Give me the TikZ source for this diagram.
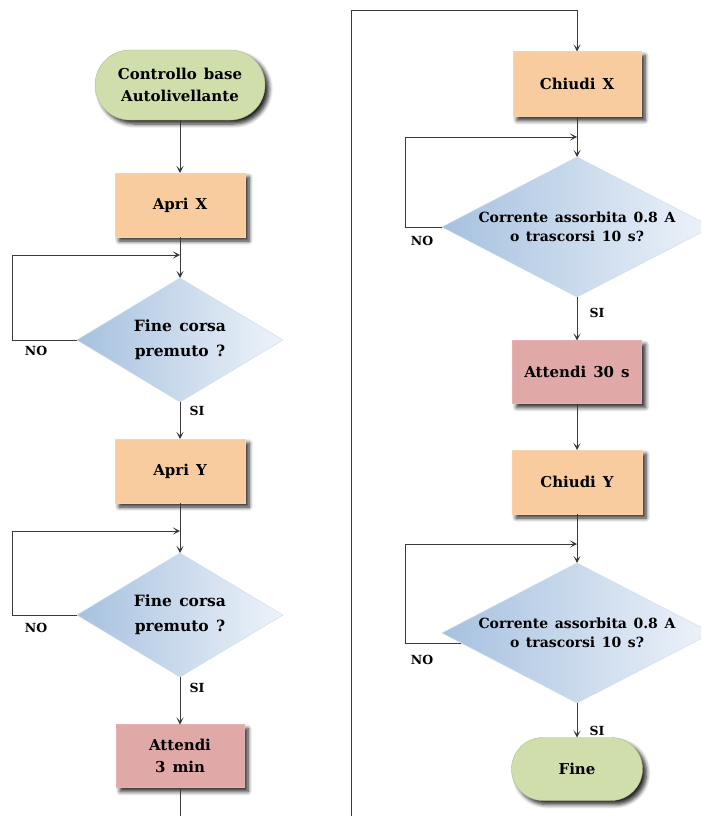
\documentclass[tikz,border=0pt]{standalone}
\usepackage{fontspec}
\setmainfont{DejaVu Serif}[WordSpace=1.35]
\usetikzlibrary{shapes.geometric,shapes.misc,shadows.blur,arrows.meta}
\definecolor{termcol}{HTML}{CFDEAA}
\definecolor{proccol}{HTML}{F9CCA0}
\definecolor{waitcol}{HTML}{E1A8A8}
\definecolor{decL}{HTML}{A6C1DF}
\definecolor{decR}{HTML}{EEF3FA}
\definecolor{linecol}{HTML}{3A3A3A}
\begin{document}
\begin{tikzpicture}[x=1pt,y=-1pt,
  base/.style={font=\bfseries\fontsize{15}{22}\selectfont, align=center, text=black, inner sep=0pt, outer sep=0pt},
  shad/.style={blur shadow={shadow xshift=4pt,shadow yshift=-4pt,shadow blur steps=6,shadow blur radius=4pt,shadow opacity=85}},
  term/.style={base, rounded rectangle, fill=termcol, draw=termcol!85!black, line width=0.4pt, shad},
  proc/.style={base, rectangle, fill=proccol, draw=proccol!90!white, line width=0.4pt, minimum width=130pt, minimum height=64pt, shad},
  wait/.style={base, rectangle, fill=waitcol, draw=waitcol!90!white, line width=0.4pt, minimum width=128pt, minimum height=63pt, shad},
  dec/.style={diamond, inner sep=0pt, outer sep=0pt, left color=decL, right color=decR, draw=decL!60!white, line width=0.4pt},
  decs/.style={dec, minimum width=206pt, minimum height=124pt},
  decl/.style={dec, minimum width=270pt, minimum height=140pt},
  dtxt/.style={base, font=\bfseries\fontsize{15.5}{25}\selectfont},
  dtxtl/.style={base, font=\bfseries\fontsize{14}{19}\selectfont},
  conn/.style={draw=linecol, line width=0.9pt},
  arr/.style={conn, -{Stealth[length=7pt,width=7pt,inset=3.5pt]}},
  lab/.style={font=\bfseries\fontsize{12.5}{14}\selectfont, inner sep=0pt}
]
\useasboundingbox (0,0) rectangle (701,816);
\clip (0,0) rectangle (701,816);

% left column
\node[term, minimum width=170pt, minimum height=70pt] (s) at (180,85) {Controllo base\\Autolivellante};
\node[proc] (ax) at (180,205) {Apri X};
\node[decs] (d1) at (180,340) {};
\node[dtxt] (d1t) at (180,340) {Fine corsa\\premuto ?};
\node[proc] (ay) at (180,471) {Apri Y};
\node[decs] (d2) at (180,615) {};
\node[dtxt] (d2t) at (180,615) {Fine corsa\\premuto ?};
\node[wait] (a3) at (180,756) {Attendi\\3 min};

% right column
\node[proc, minimum width=128pt, minimum height=65pt] (cx) at (577,84) {Chiudi X};
\node[decl] (d3) at (577,227) {};
\node[dtxtl] (d3t) at (577,227) {Corrente assorbita 0.8 A\\o trascorsi 10 s?};
\node[wait, minimum width=129pt] (a30) at (577,372) {Attendi 30 s};
\node[proc] (cy) at (577,482) {Chiudi Y};
\node[decl] (d4) at (577,633) {};
\node[dtxtl] (d4t) at (577,633) {Corrente assorbita 0.8 A\\o trascorsi 10 s?};
\node[term, minimum width=131pt, minimum height=63pt] (fine) at (577,769) {Fine};

% labels
\node[lab] (no1) at (36,351) {NO};
\node[lab] (si1) at (197,411) {SI};
\node[lab] (no2) at (36,628) {NO};
\node[lab] (si2) at (197,688) {SI};
\node[lab] (no3) at (422,241) {NO};
\node[lab] (si3) at (597,313) {SI};
\node[lab] (no4) at (422,660) {NO};
\node[lab] (si4) at (597,731) {SI};

% coordinates
\coordinate (j1) at (180,255);
\coordinate (j2) at (180,531);
\coordinate (j3) at (577,137);
\coordinate (j4) at (577,544);
\coordinate (lx) at (12,0);
\coordinate (rx) at (405,0);
\coordinate (b1) at (180,840);
\coordinate (b2) at (351,840);
\coordinate (b3) at (351,10);
\coordinate (b4) at (577,10);

% main flow
\draw[arr] (s) -- (ax);
\draw[arr] (ax) -- (d1);
\draw[arr] (d1) -- (ay);
\draw[arr] (ay) -- (d2);
\draw[arr] (d2) -- (a3);
\draw[arr] (a3) -- (b1) -- (b2) -- (b3) -- (b4) -- (cx);
\draw[arr] (cx) -- (d3);
\draw[arr] (d3) -- (a30);
\draw[arr] (a30) -- (cy);
\draw[arr] (cy) -- (d4);
\draw[arr] (d4) -- (fine);

% loops
\draw[arr] (d1.west) -- (d1.west -| lx) -- (lx |- j1) -- (j1);
\draw[arr] (d2.west) -- (d2.west -| lx) -- (lx |- j2) -- (j2);
\draw[arr] (d3.west) -- (d3.west -| rx) -- (rx |- j3) -- (j3);
\draw[arr] (d4.185) -- (d4.185 -| rx) -- (rx |- j4) -- (j4);
\end{tikzpicture}
\end{document}
